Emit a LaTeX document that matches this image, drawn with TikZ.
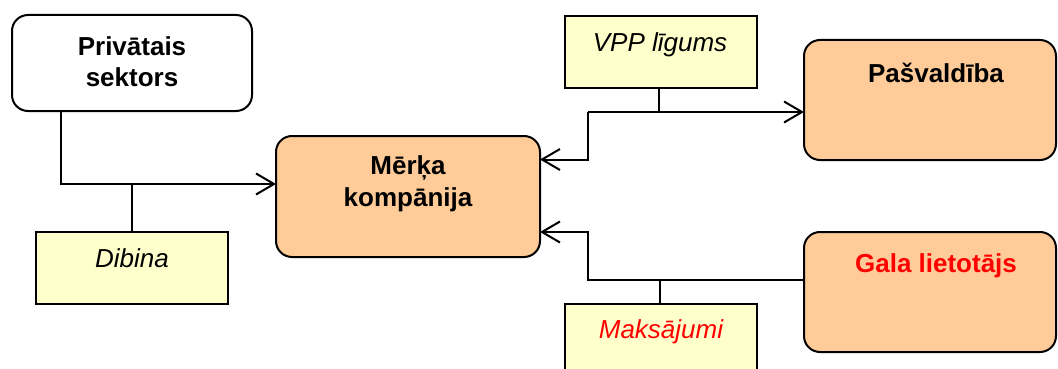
\documentclass[tikz,border=0pt]{standalone}
\usepackage{fontspec}
\setmainfont{Liberation Sans}
\usetikzlibrary{arrows.meta}
\definecolor{boxorange}{HTML}{FFCC99}
\definecolor{boxyellow}{HTML}{FFFFCC}
\definecolor{textred}{HTML}{FF0000}
\begin{document}
\begin{tikzpicture}[x=1pt,y=-1pt,
  every node/.style={inner sep=0pt, outer sep=0pt},
  party/.style={draw=black, line width=2pt, rounded corners=16pt},
  orangebox/.style={party, fill=boxorange},
  whitebox/.style={party, fill=white},
  notebox/.style={draw=black, line width=2pt, fill=boxyellow},
  title/.style={font=\fontsize{26}{32}\selectfont\bfseries, align=center, anchor=base},
  note/.style={font=\fontsize{26}{32}\selectfont\itshape, anchor=base},
  link/.style={draw=black, line width=2pt},
  flow/.style={link, -{Straight Barb[length=18pt,width=21pt,line width=2pt]}}
]
\useasboundingbox (0,0) rectangle (1058,369);
\clip (0,0) rectangle (1058,369);

% parties
\node[whitebox, minimum width=240pt, minimum height=96pt] (priv) at (132,63) {};
\node[orangebox, minimum width=264pt, minimum height=121pt] (merka) at (408,196.5) {};
\node[orangebox, minimum width=252pt, minimum height=120pt] (pasv) at (930,100) {};
\node[orangebox, minimum width=252pt, minimum height=120pt] (gala) at (930,292) {};

% notes on the links
\node[notebox, minimum width=192pt, minimum height=72pt] (vpp) at (660.5,52) {};
\node[notebox, minimum width=192pt, minimum height=72pt] (dib) at (132,268) {};
\node[notebox, minimum width=192pt, minimum height=72pt] (maks) at (660.5,340) {};

% texts (two-line titles sit on the baseline of their last line)
\node[title] (privT) at (132,87) {Privātais\\sektors};
\node[title] (merkaT) at (408,206) {Mērķa\\kompānija};
\node[title] (pasvT) at (936,82) {Pašvaldība};
\node[title, text=textred] (galaT) at (936,272) {Gala lietotājs};
\node[note] (vppT) at (660,52) {VPP līgums};
\node[note] (dibT) at (132,267) {Dibina};
\node[note, text=textred] (maksT) at (661,338) {Maksājumi};

% junction points
\coordinate (j1) at (61,184);
\coordinate (j2) at (132,184);
\coordinate (j3) at (659,112);
\coordinate (j4) at (588,112);
\coordinate (j5) at (588,159.5);
\coordinate (j6) at (660,280);
\coordinate (j7) at (588,280);
\coordinate (j8) at (588,232);

% founding link
\draw[flow] (priv.south -| j1) -- (j1) -- (merka.west |- j1);
\draw[link] (dib.north -| j2) -- (j2);

% contract link
\draw[link] (vpp.south -| j3) -- (j3);
\draw[flow] (j4) -- (pasv.west |- j4);
\draw[flow] (j4) -- (j5) -- (merka.east |- j5);

% payment link
\draw[flow] (gala.west |- j7) -- (j7) -- (j8) -- (merka.east |- j8);
\draw[link] (maks.north -| j6) -- (j6);
\end{tikzpicture}
\end{document}
